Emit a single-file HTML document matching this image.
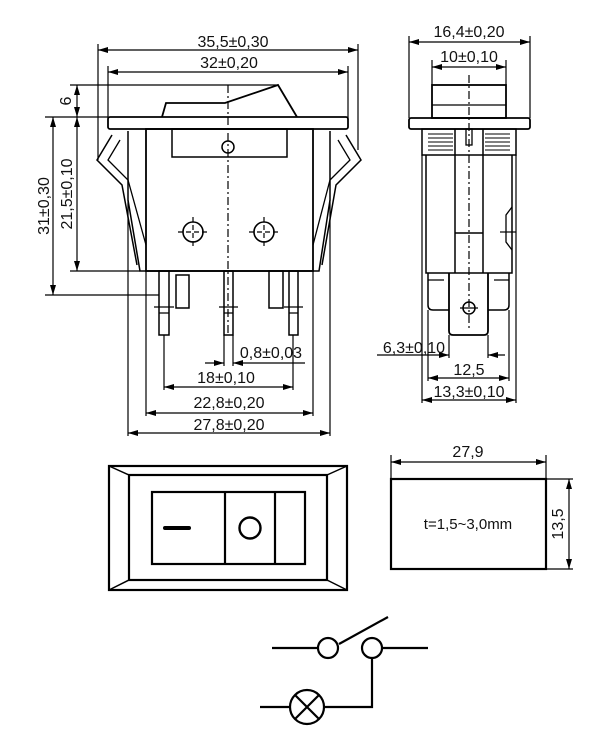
<!DOCTYPE html>
<html><head><meta charset="utf-8"><style>
html,body{margin:0;padding:0;background:#fff;}
svg{display:block;}
text{font-family:"Liberation Sans",sans-serif;font-size:16px;fill:#111;}
</style></head><body>
<svg width="600" height="752" viewBox="0 0 600 752" xmlns="http://www.w3.org/2000/svg">
<defs>
<marker id="a" viewBox="0 0 10 6" refX="10" refY="3" markerWidth="10" markerHeight="6" orient="auto-start-reverse" markerUnits="userSpaceOnUse"><path d="M0,0 L10,3 L0,6 z" fill="#000"/></marker>
</defs>
<g fill="none" stroke="#000" stroke-width="1.2">
<line x1="98" y1="44" x2="98" y2="160"/>
<line x1="358" y1="44" x2="358" y2="150"/>
<line x1="108" y1="66" x2="108" y2="118"/>
<line x1="348" y1="66" x2="348" y2="118"/>
<line x1="70" y1="85" x2="278" y2="85"/>
<line x1="45" y1="117" x2="108" y2="117"/>
<line x1="70" y1="271" x2="140" y2="271"/>
<line x1="45" y1="295" x2="159" y2="295"/>
<line x1="98" y1="50" x2="358" y2="50" marker-start="url(#a)" marker-end="url(#a)"/>
<line x1="108" y1="72" x2="348" y2="72" marker-start="url(#a)" marker-end="url(#a)"/>
<line x1="77" y1="85" x2="77" y2="117" marker-start="url(#a)" marker-end="url(#a)"/>
<line x1="77" y1="117" x2="77" y2="271" marker-start="url(#a)" marker-end="url(#a)"/>
<line x1="53" y1="117" x2="53" y2="295" marker-start="url(#a)" marker-end="url(#a)"/>
<path d="M162,117 L166,103 L225,103 L278,85 L297,117" stroke-width="1.8"/>
<rect x="108" y="117" width="240" height="12" rx="2" stroke-width="1.8"/>
<rect x="146" y="129" width="167" height="142" stroke-width="1.8"/>
<path d="M128,131 L128,200 L140,271 L319,271 L330,200 L330,131" stroke-width="1.5"/>
<path d="M112,135 L97,160 L122,185 L137,265" stroke-width="1.5"/>
<path d="M120,140 L108,160 L128,180 L146,245" stroke-width="1.3"/>
<path d="M346,135 L361,160 L336,185 L322,265" stroke-width="1.5"/>
<path d="M338,140 L350,160 L330,180 L313,245" stroke-width="1.3"/>
<rect x="172" y="129" width="115" height="28" stroke-width="1.5"/>
<circle cx="228" cy="147" r="6" stroke-width="1.5"/>
<line x1="228" y1="85" x2="228" y2="335" stroke-dasharray="8,3,2,3"/>
<circle cx="193" cy="232" r="10" stroke-width="1.6"/>
<circle cx="264" cy="232" r="10" stroke-width="1.6"/>
<path d="M178,232h30M193,217v30M249,232h30M264,217v30" stroke-dasharray="5,3"/>
<rect x="159" y="271" width="10" height="64" stroke-width="1.5"/>
<rect x="176" y="275" width="13" height="33" stroke-width="1.5"/>
<rect x="224" y="271" width="9" height="64" stroke-width="1.5"/>
<rect x="269" y="271" width="14" height="37" stroke-width="1.5"/>
<rect x="289" y="271" width="9" height="64" stroke-width="1.5"/>
<path d="M159,313h10M224,313h9M289,313h9M154,307h20M219,307h19M284,307h19"/>
<line x1="164" y1="335" x2="164" y2="390"/>
<line x1="293" y1="335" x2="293" y2="390"/>
<line x1="224" y1="335" x2="224" y2="366"/>
<line x1="233" y1="335" x2="233" y2="366"/>
<line x1="146" y1="271" x2="146" y2="416"/>
<line x1="313" y1="271" x2="313" y2="416"/>
<line x1="128" y1="200" x2="128" y2="436"/>
<line x1="330" y1="200" x2="330" y2="436"/>
<line x1="205" y1="363" x2="224" y2="363" marker-end="url(#a)"/>
<line x1="305" y1="363" x2="233" y2="363" marker-end="url(#a)"/>
<line x1="164" y1="387" x2="293" y2="387" marker-start="url(#a)" marker-end="url(#a)"/>
<line x1="146" y1="413" x2="313" y2="413" marker-start="url(#a)" marker-end="url(#a)"/>
<line x1="128" y1="433" x2="330" y2="433" marker-start="url(#a)" marker-end="url(#a)"/>

<line x1="409" y1="36" x2="409" y2="118"/>
<line x1="530" y1="36" x2="530" y2="118"/>
<line x1="432" y1="60" x2="432" y2="85"/>
<line x1="506" y1="60" x2="506" y2="85"/>
<line x1="409" y1="42" x2="530" y2="42" marker-start="url(#a)" marker-end="url(#a)"/>
<line x1="432" y1="67" x2="506" y2="67" marker-start="url(#a)" marker-end="url(#a)"/>
<rect x="432" y="85" width="74" height="33" stroke-width="1.8"/>
<line x1="432" y1="105" x2="506" y2="105" stroke-width="1.3"/>
<rect x="409" y="118" width="121" height="11" rx="2" stroke-width="1.8"/>
<rect x="422" y="129" width="94" height="26" stroke-width="1.5"/>
<path d="M428,134h25M428,138h25M428,142h25M428,146h25M428,150h25M485,134h25M485,138h25M485,142h25M485,146h25M485,150h25" stroke-width="0.9"/>
<path d="M426,155 V273 H512 V155" stroke-width="1.5"/>
<path d="M455,129 V273 M483,129 V273 M455,233 H483" stroke-width="1.5"/>
<rect x="466" y="129" width="6" height="16" stroke-width="1.3"/>
<line x1="469" y1="75" x2="469" y2="330" stroke-dasharray="8,3,2,3"/>
<path d="M512,207 L506,215 V242 L512,250" stroke-width="1.3"/>
<line x1="500" y1="232" x2="516" y2="232"/>
<path d="M428,273 V305 Q428,310 433,310 H449 M488,310 H504 Q509,310 509,305 V273" stroke-width="1.5"/>
<path d="M428,280h16M494,280h15" stroke-width="1.3"/>
<path d="M449,273 V331 Q449,335 453,335 H484 Q488,335 488,331 V273" stroke-width="1.8"/>
<circle cx="469" cy="308" r="6" stroke-width="1.5"/>
<line x1="460" y1="308" x2="478" y2="308"/>
<line x1="449" y1="335" x2="449" y2="358"/>
<line x1="488" y1="335" x2="488" y2="358"/>
<line x1="428" y1="310" x2="428" y2="381"/>
<line x1="509" y1="310" x2="509" y2="381"/>
<line x1="422" y1="155" x2="422" y2="403"/>
<line x1="516" y1="155" x2="516" y2="403"/>
<line x1="377" y1="355" x2="449" y2="355" marker-end="url(#a)"/>
<line x1="505" y1="355" x2="488" y2="355" marker-end="url(#a)"/>
<line x1="428" y1="378" x2="509" y2="378" marker-start="url(#a)" marker-end="url(#a)"/>
<line x1="422" y1="400" x2="516" y2="400" marker-start="url(#a)" marker-end="url(#a)"/>

<rect x="109" y="466" width="238" height="124" stroke-width="2.2"/>
<rect x="129" y="475" width="198" height="105" stroke-width="2.2"/>
<path d="M109,466 L129,475 M347,466 L327,475 M109,590 L129,580 M347,590 L327,580" stroke-width="1.5"/>
<rect x="152" y="492" width="153" height="72" stroke-width="2.2"/>
<path d="M225,492 V564 M275,492 V564" stroke-width="2.2"/>
<line x1="165" y1="528" x2="189" y2="528" stroke-width="4" stroke-linecap="round"/>
<circle cx="250" cy="528" r="10.5" stroke-width="2.4"/>

<rect x="391" y="479" width="155" height="90" stroke-width="2.2"/>
<line x1="391" y1="455" x2="391" y2="479"/>
<line x1="546" y1="455" x2="546" y2="479"/>
<line x1="391" y1="462" x2="546" y2="462" marker-start="url(#a)" marker-end="url(#a)"/>
<line x1="546" y1="479" x2="573" y2="479"/>
<line x1="546" y1="569" x2="573" y2="569"/>
<line x1="569" y1="479" x2="569" y2="569" marker-start="url(#a)" marker-end="url(#a)"/>

<g stroke-width="2.2">
<line x1="272" y1="648" x2="318" y2="648"/>
<circle cx="328" cy="648" r="10"/>
<line x1="339" y1="644" x2="388" y2="617"/>
<circle cx="372" cy="648" r="10"/>
<line x1="382" y1="648" x2="428" y2="648"/>
<path d="M372,658 V707 H324"/>
<line x1="260" y1="707" x2="290" y2="707"/>
<circle cx="307" cy="707" r="17"/>
<path d="M295,695 L319,719 M319,695 L295,719"/>
</g>
</g>
<g>
<text x="233" y="47" text-anchor="middle">35,5±0,30</text>
<text x="229" y="68" text-anchor="middle">32±0,20</text>
<text transform="translate(71,101) rotate(-90)" text-anchor="middle">6</text>
<text transform="translate(72,194) rotate(-90)" text-anchor="middle">21,5±0,10</text>
<text transform="translate(49,206) rotate(-90)" text-anchor="middle">31±0,30</text>
<text x="271" y="358" text-anchor="middle">0,8±0,03</text>
<text x="226" y="383" text-anchor="middle">18±0,10</text>
<text x="229" y="408" text-anchor="middle">22,8±0,20</text>
<text x="229" y="430" text-anchor="middle">27,8±0,20</text>
<text x="469" y="37" text-anchor="middle">16,4±0,20</text>
<text x="469" y="62" text-anchor="middle">10±0,10</text>
<text x="414" y="353" text-anchor="middle">6,3±0,10</text>
<text x="469" y="375" text-anchor="middle">12,5</text>
<text x="469" y="397" text-anchor="middle">13,3±0,10</text>
<text x="468" y="457" text-anchor="middle">27,9</text>
<text x="468" y="529" text-anchor="middle" style="font-size:15px">t=1,5~3,0mm</text>
<text transform="translate(563,524) rotate(-90)" text-anchor="middle">13,5</text>
</g>
</svg>
</body></html>
